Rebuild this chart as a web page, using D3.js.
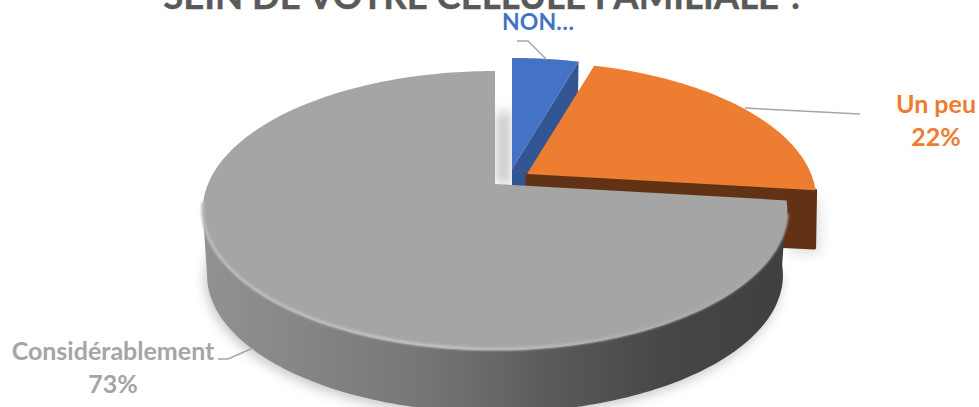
<!DOCTYPE html>
<html><head><meta charset="utf-8">
<script src="https://cdnjs.cloudflare.com/ajax/libs/d3/7.8.5/d3.min.js"></script>
<style>html,body{margin:0;padding:0;background:#fff;overflow:hidden}svg{display:block}text{font-family:Lato,"Open Sans",sans-serif;font-weight:700}</style>
</head><body>
<svg id="c" width="979" height="407"></svg>
<script>
const titleText = "SEIN DE VOTRE CELLULE FAMILIALE ?";
const categories = ["NON…", "Un peu", "Considérablement"];
const values = [4.5, 22.4, 73.1];
const valueLabels = ["", "22%", "73%"];

const faceColors = ["#4472c4", "#ed7d31", "#a5a5a5"];
const wallColors = ["#335593", "#613214", "url(#wallGrad)"];
const textColors = ["#4472c4", "#ed7d31", "#a5a5a5"];

const svg = d3.select("#c");
const defs = svg.append("defs");
const cx = 495, cy = 184, bx = 287, ay = 134.5, persp = -0.19, botScale = 0.985;
const explode = [{dx:17,dy:-15,r:0.98,d:60},{dx:32,dy:-10,r:0.99,d:60},{dx:0,dy:0,r:1,d:65}];

const wg = defs.append("linearGradient").attr("id","wallGrad").attr("gradientUnits","userSpaceOnUse")
  .attr("x1",200).attr("x2",785).attr("y1",0).attr("y2",0);
[[0,"#929292"],[0.2,"#848484"],[0.4,"#747474"],[0.6,"#5a5a5a"],[0.8,"#464646"],[1,"#404040"]]
  .forEach(s=>wg.append("stop").attr("offset",s[0]).attr("stop-color",s[1]));
const rg = defs.append("linearGradient").attr("id","rimGrad").attr("gradientUnits","userSpaceOnUse")
  .attr("x1",200).attr("x2",785).attr("y1",0).attr("y2",0);
[[0,"#bcbcbc"],[0.4,"#c4c4c4"],[0.75,"#b0b0b0"],[1,"#a5a5a5"]]
  .forEach(s=>rg.append("stop").attr("offset",s[0]).attr("stop-color",s[1]));
defs.append("filter").attr("id","blur").attr("x","-20%").attr("y","-20%").attr("width","140%").attr("height","140%")
  .append("feGaussianBlur").attr("stdDeviation",6);
defs.append("filter").attr("id","soft").attr("x","-5%").attr("y","-5%").attr("width","110%").attr("height","110%")
  .append("feGaussianBlur").attr("stdDeviation",1);

// perspective projection of a unit-disc point at pie angle a (0 = top, clockwise)
function project(a, i, level) {
  const e = explode[i], u = Math.sin(a) * e.r, v = -Math.cos(a) * e.r, k = 1 + persp * v;
  const s = level ? botScale : 1;
  return [cx + e.dx + s * bx * u / k, cy + e.dy + (level ? e.d : 0) + s * ay * v / k];
}
function apex(i, level) {
  const e = explode[i];
  return [cx + e.dx, cy + e.dy + (level ? e.d : 0)];
}
function arcPts(a0, a1, i, level) {
  const n = Math.max(2, Math.ceil((a1 - a0) / 0.02));
  return d3.range(n + 1).map(j => project(a0 + (a1 - a0) * j / n, i, level));
}
const line = d3.line();
const closed = pts => line(pts) + "Z";

const slices = d3.pie().sort(null).value(d => d)(values);

// soft shadows
const shadow = svg.append("g").attr("filter","url(#blur)");
shadow.append("path").attr("fill","#c8c8c8")
  .attr("d", closed(arcPts(Math.PI*0.55, Math.PI*1.6, 2, 1).map(p=>[p[0]-2,p[1]+4])));
shadow.append("path").attr("fill","#e0e0e0")
  .attr("d", closed([[790,195],[820,200],[820,254],[790,254]]));
shadow.append("path").attr("fill","#c4c4c4")
  .attr("d", closed([[497,112],[510,112],[510,184],[497,184]]));

// blue wedge
{
  const s = slices[0];
  const end = project(s.endAngle,0,0), ap = apex(0,0);
  svg.append("path").attr("fill",wallColors[0])
    .attr("d", closed([end, ap, apex(0,1), project(s.endAngle,0,1)]));
  svg.append("path").attr("fill",faceColors[0])
    .attr("d", closed([ap, ...arcPts(s.startAngle,s.endAngle,0,0)]));
}
// orange wedge
{
  const s = slices[1];
  const end = project(s.endAngle,1,0), ap = apex(1,0), endB = project(s.endAngle,1,1);
  svg.append("path").attr("fill",wallColors[1]).attr("stroke",wallColors[1]).attr("stroke-width",3).attr("stroke-linejoin","round")
    .attr("d", closed([ap, end, [end[0]-1,endB[1]-2], apex(1,1)]));
  svg.append("path").attr("fill",faceColors[1])
    .attr("d", closed([ap, ...arcPts(s.startAngle,s.endAngle,1,0)]));
}
// grey wedge
{
  const s = slices[2];
  const a0 = s.startAngle, a1 = s.endAngle, a2 = Math.PI*1.44;
  const frontTop = arcPts(a0, a2, 2, 0), frontBot = arcPts(a0, a2, 2, 1);
  svg.append("path").attr("fill",wallColors[2]).attr("d", closed([...frontTop, ...frontBot.reverse()]));
  svg.append("path").attr("fill",faceColors[2]).attr("d", closed([apex(2,0), ...arcPts(a0,a1,2,0)]));
  svg.append("path").attr("fill","none").attr("stroke","url(#rimGrad)").attr("stroke-width",3).attr("filter","url(#soft)")
    .attr("d", line(arcPts(a0+0.1, a2+0.05, 2, 0).map(p=>[p[0],p[1]-1])));
}

// leader lines
const leader = [[[517,41],[528,41],[547,60]],[[745,108],[860,114]],[[218,359],[228,359],[253,348]]];
leader.forEach(l => svg.append("path").attr("d",line(l)).attr("fill","none").attr("stroke","#a6a6a6").attr("stroke-width",1.5));

// title and labels
svg.append("text").attr("x",484).attr("y",9).attr("text-anchor","middle").attr("font-size",36.5)
  .attr("fill","#595959").attr("stroke","#595959").attr("stroke-width",0.4).text(titleText);
const labelPos = [{x:538,y:30,fs:23},{x:936,y:113,sp:33,fs:25},{x:113,y:360,sp:33,fs:25}];
categories.forEach((c,i)=>{
  const p = labelPos[i];
  svg.append("text").attr("x",p.x).attr("y",p.y).attr("text-anchor","middle")
    .attr("font-size",p.fs).attr("fill",textColors[i]).text(c);
  if (valueLabels[i]) svg.append("text").attr("x",p.x).attr("y",p.y+p.sp)
    .attr("text-anchor","middle").attr("font-size",p.fs).attr("fill",textColors[i]).text(valueLabels[i]);
});
</script>
</body></html>
